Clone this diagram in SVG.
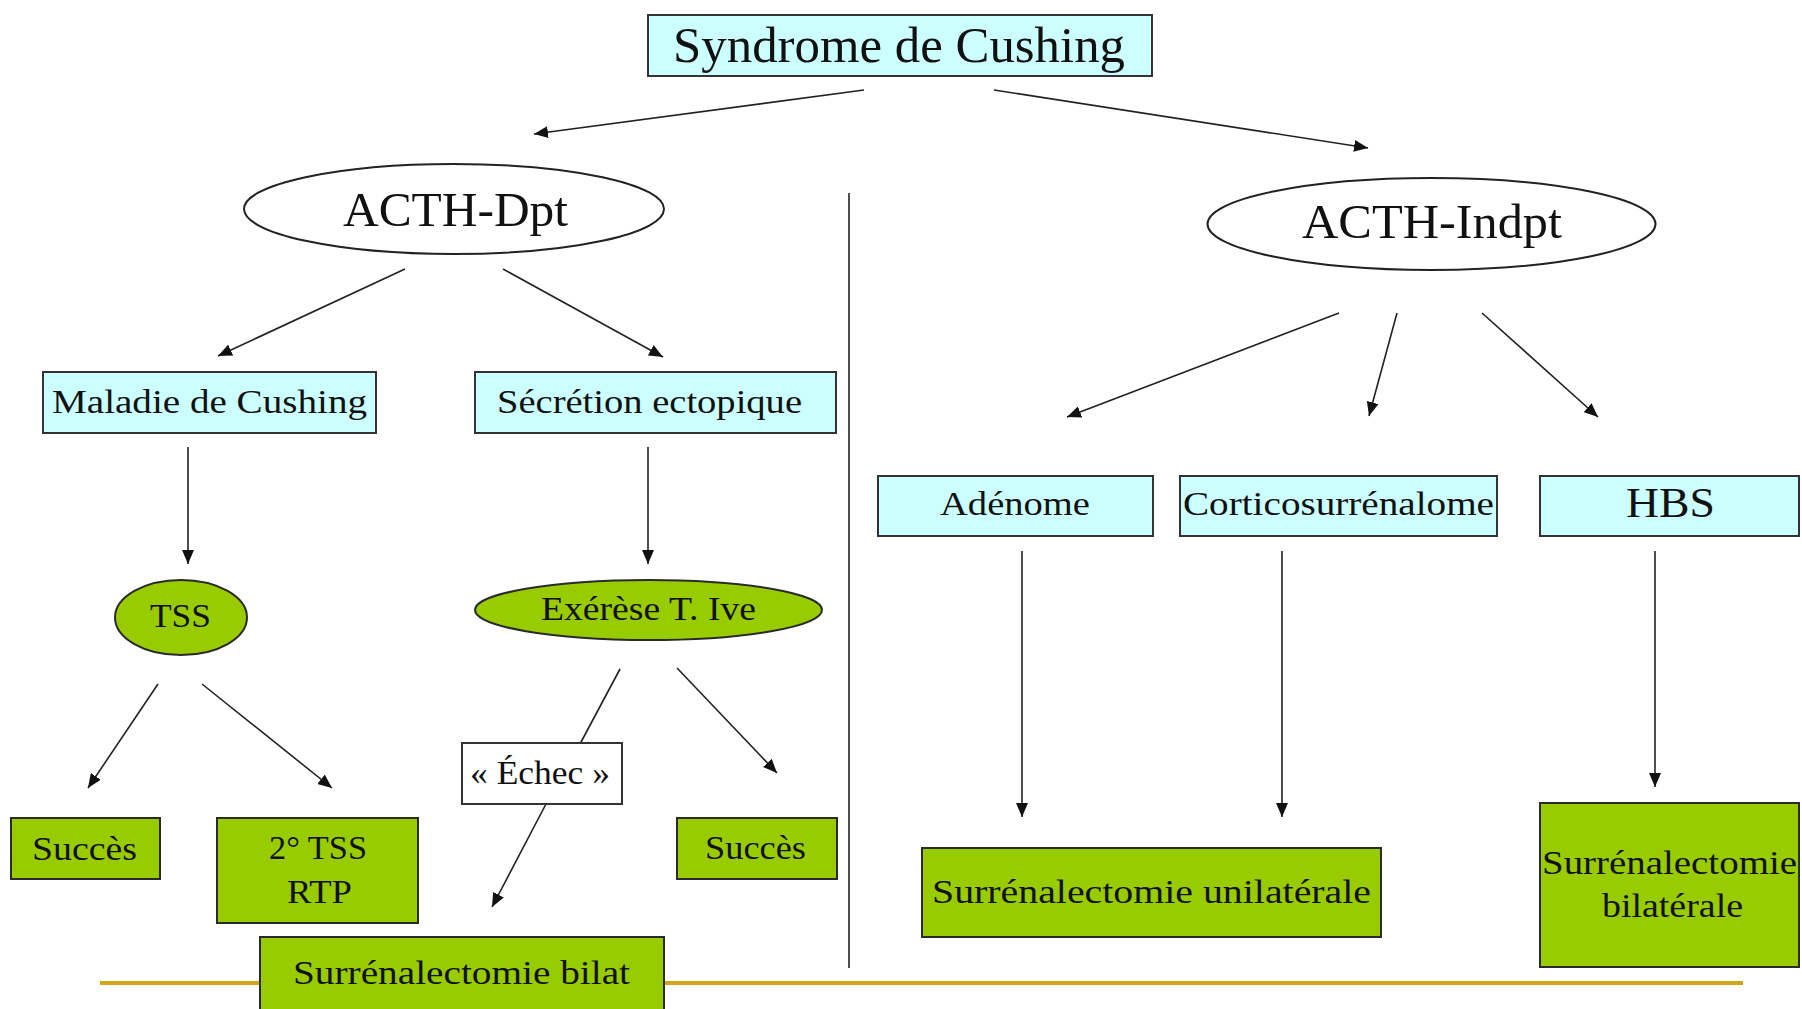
<svg xmlns="http://www.w3.org/2000/svg" width="1802" height="1009" viewBox="0 0 1802 1009">
<defs>
<marker id="ah" viewBox="0 0 14 12" refX="14" refY="6" markerWidth="14" markerHeight="12" markerUnits="userSpaceOnUse" orient="auto">
<path d="M0,0 L14,6 L0,12 z" fill="#111"/>
</marker>
<style>
.cyan{fill:#CCFFFF;stroke:#333;stroke-width:2}
.green{fill:#99CC00;stroke:#2a2a2a;stroke-width:2}
.white{fill:#FFFFFF;stroke:#333;stroke-width:2}
.t{font-family:"Liberation Serif","DejaVu Serif",serif;fill:#111}
.c{stroke:#222;stroke-width:1.6;fill:none}
.ca{stroke:#222;stroke-width:1.6;fill:none;marker-end:url(#ah)}
</style>
</defs>
<rect width="1802" height="1009" fill="#FFFFFF"/>
<g id="decor">
<line x1="100" y1="983" x2="1743" y2="983" stroke="#D4A419" stroke-width="4"/>
<line x1="849" y1="193" x2="849" y2="968" stroke="#222" stroke-width="1.6"/>
</g>
<g id="connectors">
<line class="ca" x1="864" y1="90" x2="534" y2="134"/>
<line class="ca" x1="994" y1="90" x2="1368" y2="148"/>
<line class="ca" x1="405" y1="269" x2="218" y2="356"/>
<line class="ca" x1="503" y1="269" x2="663" y2="357"/>
<line class="ca" x1="188" y1="447" x2="188" y2="564"/>
<line class="ca" x1="648" y1="447" x2="648" y2="564"/>
<line class="ca" x1="158" y1="684" x2="88" y2="788"/>
<line class="ca" x1="202" y1="684" x2="332" y2="788"/>
<line class="c" x1="620" y1="669" x2="580" y2="744"/>
<line class="ca" x1="546" y1="804" x2="492" y2="907"/>
<line class="ca" x1="677" y1="668" x2="777" y2="773"/>
<line class="ca" x1="1339" y1="313" x2="1067" y2="417"/>
<line class="ca" x1="1397" y1="313" x2="1369" y2="416"/>
<line class="ca" x1="1482" y1="313" x2="1598" y2="417"/>
<line class="ca" x1="1022" y1="551" x2="1022" y2="817"/>
<line class="ca" x1="1282" y1="551" x2="1282" y2="817"/>
<line class="ca" x1="1655" y1="551" x2="1655" y2="787"/>
</g>
<g id="n-syndrome">
<rect class="cyan" x="648" y="15" width="504" height="61"/>
<text class="t" x="673" y="62" font-size="50" textLength="452" lengthAdjust="spacingAndGlyphs">Syndrome de Cushing</text>
</g>
<g id="n-acth-dpt">
<ellipse cx="454" cy="209" rx="210" ry="45" fill="#FFFFFF" stroke="#222" stroke-width="2"/>
<text class="t" x="343" y="226" font-size="48" textLength="225" lengthAdjust="spacingAndGlyphs">ACTH-Dpt</text>
</g>
<g id="n-acth-indpt">
<ellipse cx="1431.5" cy="224" rx="224" ry="46" fill="#FFFFFF" stroke="#222" stroke-width="2"/>
<text class="t" x="1302" y="238" font-size="48" textLength="260" lengthAdjust="spacingAndGlyphs">ACTH-Indpt</text>
</g>
<g id="n-maladie">
<rect class="cyan" x="43" y="372" width="333" height="61"/>
<text class="t" x="52" y="413" font-size="34" textLength="315" lengthAdjust="spacingAndGlyphs">Maladie de Cushing</text>
</g>
<g id="n-secretion">
<rect class="cyan" x="475" y="372" width="361" height="61"/>
<text class="t" x="497" y="413" font-size="34" textLength="305" lengthAdjust="spacingAndGlyphs">Sécrétion ectopique</text>
</g>
<g id="n-tss">
<ellipse class="green" cx="181" cy="617.5" rx="66" ry="37.5"/>
<text class="t" x="150" y="627" font-size="34" textLength="61" lengthAdjust="spacingAndGlyphs">TSS</text>
</g>
<g id="n-exerese">
<ellipse class="green" cx="648.5" cy="610" rx="173.5" ry="30"/>
<text class="t" x="541" y="620" font-size="34" textLength="215" lengthAdjust="spacingAndGlyphs">Exérèse T. Ive</text>
</g>
<g id="n-succes1">
<rect class="green" x="11" y="818" width="149" height="61"/>
<text class="t" x="32" y="860" font-size="34" textLength="105" lengthAdjust="spacingAndGlyphs">Succès</text>
</g>
<g id="n-tss2">
<rect class="green" x="217" y="818" width="201" height="105"/>
<text class="t" x="269" y="859" font-size="34" textLength="98" lengthAdjust="spacingAndGlyphs">2° TSS</text>
<text class="t" x="287" y="903" font-size="34" textLength="65" lengthAdjust="spacingAndGlyphs">RTP</text>
</g>
<g id="n-echec">
<rect class="white" x="462" y="743" width="160" height="61"/>
<text class="t" x="470" y="784" font-size="34" textLength="140" lengthAdjust="spacingAndGlyphs">« Échec »</text>
</g>
<g id="n-succes2">
<rect class="green" x="677" y="818" width="160" height="61"/>
<text class="t" x="705" y="859" font-size="34" textLength="101" lengthAdjust="spacingAndGlyphs">Succès</text>
</g>
<g id="n-bilat">
<rect class="green" x="260" y="937" width="404" height="90"/>
<text class="t" x="293" y="984" font-size="34" textLength="337" lengthAdjust="spacingAndGlyphs">Surrénalectomie bilat</text>
</g>
<g id="n-adenome">
<rect class="cyan" x="878" y="476" width="275" height="60"/>
<text class="t" x="940" y="515" font-size="33" textLength="150" lengthAdjust="spacingAndGlyphs">Adénome</text>
</g>
<g id="n-cortico">
<rect class="cyan" x="1180" y="476" width="317" height="60"/>
<text class="t" x="1183" y="515" font-size="33" textLength="311" lengthAdjust="spacingAndGlyphs">Corticosurrénalome</text>
</g>
<g id="n-hbs">
<rect class="cyan" x="1540" y="476" width="259" height="60"/>
<text class="t" x="1626" y="517" font-size="43" textLength="89" lengthAdjust="spacingAndGlyphs">HBS</text>
</g>
<g id="n-unilat">
<rect class="green" x="922" y="848" width="459" height="89"/>
<text class="t" x="932" y="903" font-size="33" textLength="439" lengthAdjust="spacingAndGlyphs">Surrénalectomie unilatérale</text>
</g>
<g id="n-bilaterale">
<rect class="green" x="1540" y="803" width="259" height="164"/>
<text class="t" x="1542" y="874" font-size="33" textLength="255" lengthAdjust="spacingAndGlyphs">Surrénalectomie</text>
<text class="t" x="1602" y="917" font-size="33" textLength="141" lengthAdjust="spacingAndGlyphs">bilatérale</text>
</g>
</svg>
